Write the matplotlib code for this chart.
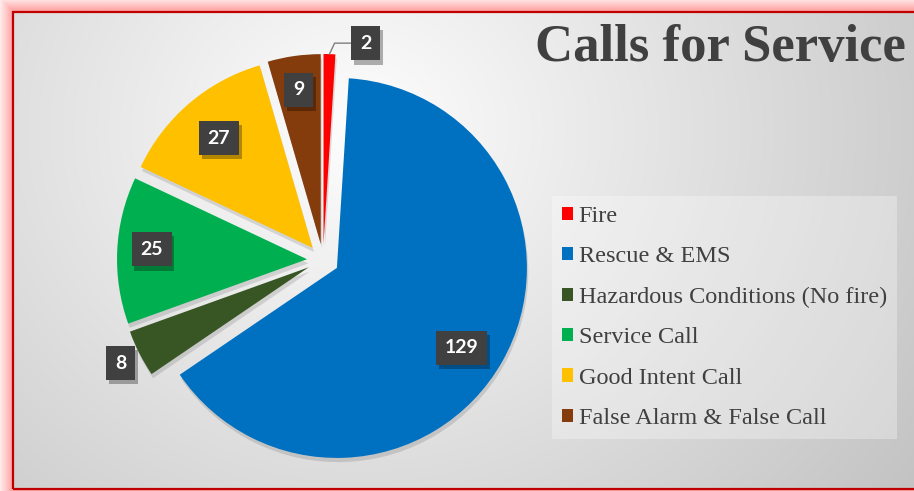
import numpy as np
import matplotlib
matplotlib.use("Agg")
import matplotlib.pyplot as plt
import matplotlib.patheffects as pe
from matplotlib.patches import Patch, Rectangle

categories = ["Fire", "Rescue & EMS", "Hazardous Conditions (No fire)",
              "Service Call", "Good Intent Call", "False Alarm & False Call"]
calls = [2, 129, 8, 25, 27, 9]
colors = ["#FF0000", "#0070C0", "#375623", "#00B050", "#FFC000", "#843C0C"]

# label placement (fraction of radius from each exploded wedge apex) and angle tweak
label_dist = [1.08, 0.78, 1.11, 0.82, 0.76, 0.82]
label_turn = [-10, -3, 0, -1, 0, 0]

W, H = 914, 491
fig = plt.figure(figsize=(W / 100, H / 100), dpi=100)

# background: soft radial grey + pink glow frame
bg = fig.add_axes([0, 0, 1, 1])
yy, xx = np.mgrid[0:H, 0:W]
d = np.sqrt((xx - 360.0) ** 2 + ((yy - 130.0) / 0.9) ** 2)
v = np.clip(0.995 - 0.21 * d / 620, 0.76, 1.0)
img = np.dstack([v, v, v])
out = np.maximum.reduce([13 - xx, 11 - yy, yy - 489, np.zeros_like(xx)])
t = np.clip(out / 13.0, 0, 1)
glow = out > 0
img[glow, 0] = 1.0
img[glow, 1] = 0.62 + 0.3 * t[glow]
img[glow, 2] = 0.62 + 0.3 * t[glow]
bg.imshow(img, extent=(0, W, 0, H), origin="upper", aspect="auto", zorder=0)
bg.add_patch(Rectangle((13, 2), 1000, 477, fill=False, ec="#C00000", lw=1.6))
bg.set_xlim(0, W)
bg.set_ylim(0, H)
bg.axis("off")

# pie, drawn in pixel units
ax = fig.add_axes([0, 0, 1, 1])
ax.patch.set_alpha(0)
R = 190
wedges, _ = ax.pie(calls, colors=colors, startangle=90, counterclock=False,
                   explode=[16] * len(calls), radius=R, center=(323, 231),
                   wedgeprops=dict(linewidth=0))
for w in wedges:
    w.set_path_effects([pe.SimplePatchShadow(offset=(1, -3), shadow_rgbFace="k", alpha=0.12),
                        pe.Normal()])
ax.set_aspect("auto")
ax.set_xlim(0, W)
ax.set_ylim(0, H)
ax.axis("off")

box = dict(boxstyle="square,pad=0.45", fc="#404040", ec="none")
for w, n, dist, turn in zip(wedges, calls, label_dist, label_turn):
    mid = np.deg2rad((w.theta1 + w.theta2) / 2)
    ang = mid + np.deg2rad(turn)
    cx, cy = w.center
    tx, ty = cx + dist * R * np.cos(ang), cy + dist * R * np.sin(ang)
    if n == 2:
        tip = (cx + R * np.cos(mid), cy + R * np.sin(mid))
        txt = ax.annotate(str(n), xy=tip, xytext=(tx, ty), ha="center", va="center",
                          color="white", fontsize=14, fontweight="bold", family="Lato",
                          bbox=box,
                          arrowprops=dict(arrowstyle="-", color="#7f7f7f", lw=1,
                                          shrinkA=0, shrinkB=0,
                                          connectionstyle="angle,angleA=0,angleB=65,rad=0"))
    else:
        txt = ax.text(tx, ty, str(n), ha="center", va="center", color="white",
                      fontsize=14, fontweight="bold", family="Lato", bbox=box)
    txt.get_bbox_patch().set_path_effects([
        pe.SimplePatchShadow(offset=(2, -3), shadow_rgbFace="k", alpha=0.3), pe.Normal()])

fig.text(906 / W, 1 - 48 / H, "Calls for Service", ha="right", va="center",
         fontsize=38, fontweight="bold", family="Liberation Serif", color="#404040")

handles = [Patch(facecolor=c, edgecolor="none") for c in colors]
leg = fig.legend(handles, categories, loc="upper left",
                 bbox_to_anchor=(552 / W, 1 - 196 / H), frameon=True, fancybox=False,
                 prop=dict(family="Liberation Serif", size=17.5),
                 handlelength=0.45, handleheight=0.45, handletextpad=0.25,
                 labelspacing=0.8, borderpad=0.4, borderaxespad=0)
leg.get_frame().set_facecolor("white")
leg.get_frame().set_alpha(0.3)
leg.get_frame().set_edgecolor("none")
for tx in leg.get_texts():
    tx.set_color("#404040")

fig.savefig("out.png", dpi=100)
